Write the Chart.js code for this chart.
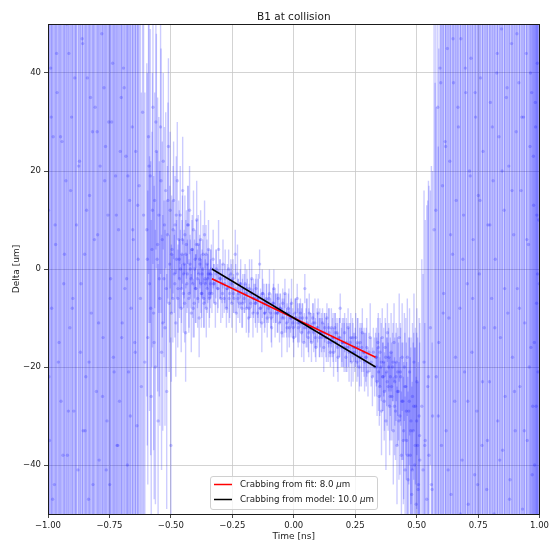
<!DOCTYPE html>
<html>
<head>
<meta charset="utf-8">
<title>B1 at collision</title>
<script src="https://cdn.jsdelivr.net/npm/chart.js@4.4.1/dist/chart.umd.min.js"></script>
<style>
  html, body { margin: 0; padding: 0; background: #ffffff; }
  #wrap { width: 552px; height: 542px; }
</style>
</head>
<body>
<div id="wrap"><canvas id="chart" width="552" height="542"></canvas></div>
<script>
// ---- Measurements: far-left tail (bunch edge, very large errors) ----
const tailLeftTime = [
  -0.998,-0.994,-0.989,-0.985,-0.979,-0.974,-0.969,-0.963,-0.958,-0.953,
  -0.947,-0.943,-0.936,-0.931,-0.927,-0.921,-0.915,-0.911,-0.904,-0.899,
  -0.895,-0.888,-0.884,-0.878,-0.872,-0.868,-0.861,-0.857,-0.851,-0.846,
  -0.840,-0.835,-0.831,-0.824,-0.819,-0.815,-0.808,-0.803,-0.798,-0.792,
  -0.788,-0.781,-0.776,-0.772,-0.766,-0.760,-0.756,-0.749,-0.745,-0.741,
  -0.734,-0.729,-0.725,-0.719,-0.713,-0.709,-0.702,-0.698,-0.693,-0.687,
  -0.683,-0.677,-0.672,-0.668,-0.662,-0.657,-0.653,-0.647,-0.643,-0.638,
  -0.633,-0.629,-0.624,-0.620,-0.615,-0.611,-0.606,
  // second pass of samples
  -0.996,-0.987,-0.981,-0.971,-0.965,-0.955,-0.949,-0.939,-0.933,-0.924,
  -0.917,-0.908,-0.901,-0.891,-0.886,-0.875,-0.866,-0.859,-0.849,-0.843,
  -0.833,-0.827,-0.817,-0.811,-0.800,-0.794,-0.785,-0.778,-0.769,-0.763,
  -0.753,-0.747,-0.737,-0.731,-0.722,-0.716,-0.706,-0.700,-0.690,-0.680,
  -0.675,-0.665,-0.655,-0.645,-0.635
];
const tailLeftDelta = [
  12,-35,41,-8,27,-44,5,36,-19,58,
  -27,26,-3,-51,18,-38,44,-12,31,-6,
  -29,62,9,-41,22,-17,47,-33,3,-22,
  39,-47,15,-9,28,-56,33,-25,7,-39,
  21,48,-14,37,25,-31,11,-44,-2,30,
  -18,52,19,-36,8,-27,35,-11,41,-4,
  23,-40,-21,14,-8,29,6,-15,24,-32,
  2,17,-6,-24,32,11,-19,
  // second pass of samples
  -22,31,-47,9,44,-15,27,-38,3,50,
  -29,16,-8,39,-52,21,-3,46,-33,12,
  -19,35,-44,6,28,-11,53,-26,18,-41,
  30,-6,42,-21,11,-36,24,-14,37,-2,
  19,-30,8,-17,13
];
const tailLeftErr = [
  140,180,120,160,150,190,130,170,145,200,
  165,135,155,210,125,175,185,140,150,130,
  160,220,135,170,145,150,185,165,125,140,
  175,190,130,140,150,210,160,150,120,170,
  135,180,140,160,150,155,125,170,130,145,
  140,190,120,150,115,140,160,120,150,110,
  125,140,115,100,95,120,90,85,110,95,
  75,80,70,60,90,65,55,
  // second pass of samples
  150,130,170,140,160,125,145,155,135,180,
  140,150,130,165,175,145,120,170,150,135,
  160,140,175,125,150,145,190,140,130,160,
  150,125,165,140,130,155,140,120,150,115,
  110,105,95,85,80
];

// ---- Measurements: bunch core ----
const coreTime = [
  -0.598,-0.594,-0.591,-0.587,-0.584,-0.580,-0.577,-0.573,-0.570,-0.566,
  -0.563,-0.559,-0.556,-0.552,-0.549,-0.545,-0.542,-0.538,-0.535,-0.531,
  -0.528,-0.524,-0.521,-0.517,-0.514,-0.510,-0.507,-0.503,-0.500,-0.497,
  -0.495,-0.492,-0.489,-0.486,-0.483,-0.480,-0.477,-0.474,-0.471,-0.468,
  -0.465,-0.462,-0.458,-0.455,-0.452,-0.449,-0.446,-0.443,-0.440,-0.437,
  -0.433,-0.430,-0.427,-0.424,-0.421,-0.417,-0.414,-0.411,-0.408,-0.405,
  -0.401,-0.398,-0.395,-0.392,-0.389,-0.385,-0.382,-0.379,-0.376,-0.373,
  -0.369,-0.366,-0.363,-0.360,-0.356,-0.353,-0.350,-0.347,-0.343,-0.340,
  -0.337,-0.333,-0.328,-0.324,-0.319,-0.315,-0.310,-0.306,-0.301,-0.297,
  -0.292,-0.288,-0.283,-0.279,-0.274,-0.270,-0.265,-0.261,-0.256,-0.252,
  -0.247,-0.243,-0.238,-0.234,-0.229,-0.225,-0.220,-0.216,-0.211,-0.207,
  -0.202,-0.198,-0.193,-0.189,-0.184,-0.180,-0.175,-0.171,-0.166,-0.162,
  -0.157,-0.153,-0.148,-0.144,-0.139,-0.135,-0.130,-0.126,-0.121,-0.117,
  -0.112,-0.108,-0.103,-0.099,-0.094,-0.090,-0.085,-0.081,-0.076,-0.072,
  -0.067,-0.063,-0.058,-0.054,-0.049,-0.045,-0.040,-0.036,-0.031,-0.027,
  -0.022,-0.018,-0.013,-0.009,-0.004,0.000,0.005,0.009,0.014,0.018,
  0.023,0.027,0.032,0.036,0.041,0.045,0.050,0.054,0.059,0.063,
  0.068,0.072,0.077,0.081,0.086,0.090,0.095,0.099,0.104,0.108,
  0.113,0.117,0.122,0.126,0.131,0.135,0.140,0.144,0.149,0.153,
  0.158,0.162,0.167,0.171,0.176,0.180,0.185,0.189,0.194,0.198,
  0.203,0.207,0.212,0.216,0.221,0.225,0.230,0.234,0.239,0.243,
  0.248,0.252,0.257,0.261,0.266,0.270,0.275,0.279,0.284,0.288,
  0.293,0.297,0.302,0.306,0.311,0.315,0.320,0.324,0.329,0.333,
  0.336,0.339,0.342,0.345,0.348,0.351,0.354,0.357,0.360,0.363,
  0.366,0.369,0.372,0.375,0.378,0.381,0.384,0.387,0.390,0.393,
  0.396,0.399,0.402,0.405,0.408,0.411,0.414,0.417,0.420,0.423,
  0.426,0.429,0.432,0.435,0.438,0.441,0.444,0.447,0.450,0.453,
  0.456,0.459,0.462,0.465,0.468,0.471,0.474,0.477,0.480,0.483,
  0.486,0.489,0.492,0.495,0.498,0.501,0.504,0.507,0.510,0.513,
  // second pass of samples
  -0.596,-0.589,-0.582,-0.575,-0.568,-0.561,-0.554,-0.547,-0.540,-0.533,
  -0.526,-0.519,-0.512,-0.505,-0.498,-0.491,-0.484,-0.478,-0.472,-0.466,
  -0.461,-0.457,-0.453,-0.448,-0.444,-0.439,-0.435,-0.431,-0.426,-0.422,
  -0.418,-0.413,-0.409,-0.404,-0.400,-0.396,-0.391,-0.387,-0.383,-0.378,
  -0.374,-0.370,-0.365,-0.361,-0.357,-0.352,-0.348,-0.344,-0.339,-0.335,
  -0.326,-0.317,-0.308,-0.299,-0.290,-0.281,-0.272,-0.263,-0.254,-0.245,
  -0.236,-0.227,-0.218,-0.209,-0.200,-0.191,-0.182,-0.173,-0.164,-0.155,
  -0.146,-0.137,-0.128,-0.119,-0.110,-0.101,-0.092,-0.083,-0.074,-0.065,
  -0.056,-0.047,-0.038,-0.029,-0.020,-0.011,-0.002,0.007,0.016,0.025,
  0.034,0.043,0.052,0.061,0.070,0.079,0.088,0.097,0.106,0.115,
  0.124,0.133,0.142,0.151,0.160,0.169,0.178,0.187,0.196,0.205,
  0.214,0.223,0.232,0.241,0.250,0.259,0.268,0.277,0.286,0.295,
  0.338,0.344,0.350,0.356,0.362,0.368,0.374,0.380,0.386,0.392,
  0.398,0.404,0.410,0.416,0.422,0.428,0.434,0.440,0.446,0.452,
  0.458,0.464,0.470,0.476,0.482,0.488,0.494,0.500,0.506,0.512
];
const coreDelta = [
  8,-14,27,-3,19,-26,4,33,-9,14,
  -20,24,2,-31,11,-6,29,-17,6,22,
  -2,-12,16,-25,7,25,-7,12,-36,3,
  4,-6,14,-1,9,-11,2,18,-4,6,
  -2,11,-8,3,16,-5,1,7,-13,5,
  -1,9,-6,12,0,-9,4,-3,8,-7,
  2,-4,10,-2,5,-10,1,6,-5,-1,
  3,-6,7,-3,-8,1,-2,4,-5,-1,
  -1,-5,2,-3,-7,0,-4,4,-2,-6,
  -3,1,-6,-2,-8,-4,0,-5,-1,-7,
  -2,-6,3,-9,-1,-5,-7,-3,-8,-4,
  -6,-3,-8,-5,-10,-4,-7,-2,-9,-6,
  -7,-4,-9,-6,1,-8,-11,-5,-7,-9,
  -6,-10,-8,-5,-9,-12,-7,-4,-9,-8,
  -9,-6,-11,-8,-13,-7,-10,-5,-9,-12,
  -8,-12,-10,-7,-11,-14,-9,-10,-6,-12,
  -11,-9,-13,-10,-15,-4,-12,-11,-14,-9,
  -12,-15,-10,-13,-11,-16,-12,-9,-14,-13,
  -13,-11,-16,-12,-14,-10,-15,-13,-17,-12,
  -14,-17,-12,-15,-13,-18,-14,-8,-16,-15,
  -15,-13,-18,-16,-12,-17,-15,-19,-14,-16,
  -17,-14,-19,-16,-20,-15,-18,-13,-17,-19,
  -18,-16,-21,-17,-14,-19,-22,-17,-20,-18,
  -18,-23,-15,-21,-26,-17,-20,-29,-14,-22,
  -19,-25,-16,-31,-21,-13,-24,-18,-28,-22,
  -17,-26,-20,-33,-15,-23,-29,-19,-36,-21,
  -25,-14,-30,-22,-38,-18,-27,-33,-20,-41,
  -24,-35,-18,-43,-29,-21,-38,-31,-46,-26,
  -33,-19,-40,-28,-48,-23,-36,-44,-30,-39,
  // second pass of samples
  2,21,-8,12,-15,30,5,-2,18,-11,
  9,-4,14,1,-9,8,-3,11,-6,2,
  0,-4,6,-1,-7,3,-3,9,-5,1,
  -2,4,-8,0,-4,5,-6,-1,2,-3,
  -5,0,-7,-2,3,-4,-1,-6,-3,0,
  -3,-1,-4,-2,-5,-3,-4,-6,-3,-5,
  -4,-6,-3,-7,-5,-4,-8,-5,-6,-7,
  -6,-8,-5,-9,-7,-6,-10,-7,-8,-9,
  -8,-10,-9,-11,-9,-10,-12,-10,-11,-10,
  -11,-12,-10,-13,-12,-11,-14,-12,-13,-14,
  -13,-14,-12,-15,-14,-13,-16,-14,-15,-16,
  -15,-16,-14,-17,-16,-15,-18,-16,-17,-18,
  -20,-16,-24,-19,-22,-27,-18,-23,-20,-26,
  -24,-19,-28,-22,-25,-31,-21,-27,-35,-24,
  -29,-38,-27,-33,-41,-28,-36,-31,-45,-34
];
const coreErr = [
  34,30,28,26,30,36,24,32,28,22,
  28,24,22,32,20,26,30,24,20,18,
  16,20,16,24,14,18,14,16,22,12,
  10,9,12,8,10,11,8,12,9,8,
  8,10,9,7,11,8,7,8,10,7,
  7,8,7,9,6,8,6,7,8,7,
  6,7,8,6,6,8,5,6,7,5,
  6,6,7,5,6,5,5,6,5,5,
  5,4,6,4,5,4,5,6,4,5,
  4,5,3,6,4,5,4,5,3,5,
  4,3,5,4,6,3,4,5,4,3,
  3,4,5,3,4,6,3,4,5,3,
  4,3,4,5,3,4,6,3,4,3,
  3,4,3,5,3,4,3,4,5,3,
  4,3,4,3,5,3,4,3,4,5,
  3,4,3,5,3,4,3,4,3,4,
  4,3,5,3,4,3,4,5,3,4,
  3,4,3,4,5,3,4,3,4,3,
  4,3,5,3,4,3,4,5,3,4,
  4,5,3,4,3,5,4,3,4,5,
  5,4,3,5,4,6,4,5,4,3,
  4,5,4,6,5,4,6,5,4,6,
  5,6,5,4,7,5,6,5,6,5,
  6,7,5,8,6,7,6,9,6,7,
  7,8,6,10,7,6,9,7,10,8,
  8,9,7,11,8,9,10,8,12,9,
  10,9,12,10,13,11,12,14,11,15,
  14,16,12,18,15,13,20,17,22,15,
  18,14,24,16,26,15,22,25,20,28,
  // second pass of samples
  38,32,30,28,32,26,30,24,27,22,
  20,18,20,16,14,13,11,12,10,10,
  8,7,9,7,8,7,6,8,7,6,
  6,7,6,6,7,5,6,6,5,6,
  5,6,5,5,6,5,5,6,5,5,
  4,5,4,4,5,4,4,5,4,4,
  5,4,3,5,4,4,5,3,4,5,
  4,3,5,4,4,3,5,4,3,4,
  3,4,4,3,5,4,3,4,4,3,
  4,3,4,5,3,4,4,3,5,4,
  4,5,4,3,5,4,5,4,4,5,
  5,4,5,6,4,5,6,5,5,6,
  6,7,6,8,7,8,7,9,8,9,
  9,8,10,9,11,12,10,12,13,11,
  14,16,13,17,18,15,20,18,22,19
];

// ---- Measurements: far-right tail ----
const tailRightTime = [
  0.521,0.526,0.530,0.535,0.541,0.545,0.550,0.556,0.560,0.565,
  0.571,0.575,0.580,0.586,0.590,0.595,0.601,0.605,0.610,0.616,
  0.620,0.625,0.631,0.635,0.640,0.646,0.650,0.655,0.661,0.665,
  0.670,0.676,0.680,0.685,0.691,0.695,0.700,0.706,0.710,0.715,
  0.721,0.725,0.730,0.736,0.740,0.745,0.751,0.755,0.760,0.766,
  0.770,0.775,0.781,0.785,0.790,0.796,0.800,0.805,0.811,0.815,
  0.820,0.826,0.830,0.835,0.841,0.845,0.850,0.856,0.860,0.865,
  0.871,0.875,0.880,0.886,0.890,0.895,0.901,0.905,0.910,0.916,
  0.920,0.925,0.931,0.935,0.940,0.946,0.950,0.955,0.961,0.965,
  0.968,0.972,0.976,0.980,0.984,0.988,0.991,0.994,0.997,0.999,
  // second pass of samples
  0.533,0.548,0.563,0.578,0.588,0.598,0.608,0.618,0.628,0.638,
  0.648,0.658,0.668,0.678,0.688,0.698,0.708,0.718,0.728,0.738,
  0.748,0.758,0.768,0.778,0.788,0.798,0.808,0.818,0.828,0.838,
  0.848,0.858,0.868,0.878,0.888,0.898,0.908,0.918,0.928,0.938,
  0.948,0.958,0.963,0.970,0.975,0.979,0.983,0.986,0.989,0.992
];
const tailRightDelta = [
  -28,-41,-19,-35,-47,-24,-38,-12,-44,-30,
  8,-52,-22,33,-15,41,-36,17,-5,26,
  -33,45,-10,22,-46,3,38,-27,14,-55,
  29,-8,47,-39,11,-21,36,-3,-48,20,
  43,-17,6,-42,31,-29,15,-1,39,-36,
  24,-12,55,-45,9,-23,34,-6,18,-50,
  2,40,-31,27,-14,49,-37,12,-26,35,
  -9,21,-43,46,-18,7,-33,28,-4,38,
  -24,16,-49,31,-11,44,-35,5,25,-16,
  36,-28,13,-40,29,-7,42,-21,10,-3,
  // second pass of samples
  -36,-22,-45,12,-30,38,-9,25,-41,7,
  47,-18,33,-50,2,41,-27,19,-6,36,
  -44,14,-23,51,-35,9,29,-12,44,-39,
  20,-4,37,-47,16,-25,48,-8,31,-33,
  6,-20,40,-42,23,-15,34,-28,11,-1
];
const tailRightErr = [
  30,40,35,45,60,38,55,28,65,50,
  70,90,55,100,60,120,95,80,75,110,
  130,150,120,140,160,125,150,135,120,170,
  145,130,160,150,125,140,155,120,165,135,
  160,140,125,155,150,145,130,120,160,150,
  140,125,180,165,120,140,150,125,135,175,
  120,160,150,145,130,170,155,125,140,150,
  125,140,160,170,135,120,150,145,125,155,
  140,130,170,150,125,165,155,120,140,130,
  155,145,130,160,150,125,165,140,130,120,
  // second pass of samples
  25,40,30,70,55,120,80,110,125,140,
  160,130,150,175,120,145,160,130,125,150,
  165,140,125,180,150,120,145,130,160,170,
  125,140,155,170,130,145,165,120,140,150,
  135,130,150,165,140,125,155,145,130,120
];

// ---- Crabbing lines (fit and model) ----
const crabTime = [-0.333, 0.333];
const crabFitDelta = [-2, -18];
const crabModelDelta = [0, -20];
const legendLabels = ['Crabbing from fit: 8.0 ', 'Crabbing from model: 10.0 '];

// ---- Axis ticks ----
const xTickValues = [-1, -0.75, -0.5, -0.25, 0, 0.25, 0.5, 0.75, 1];
const yTickValues = [-40, -20, 0, 20, 40];

const FONT = '"DejaVu Sans", "Liberation Sans", sans-serif';
const minus = s => s.replace('-', '\u2212');

const toPoints = (t, d) => t.map((x, i) => ({ x: x, y: d[i] }));
const toErrorBars = (t, d, e) => t.map((x, i) => ({ x: x, y: [d[i] - e[i], d[i] + e[i]] }));

const allPoints = [].concat(
  toPoints(tailLeftTime, tailLeftDelta),
  toPoints(coreTime, coreDelta),
  toPoints(tailRightTime, tailRightDelta)
);
const allErrorBars = [].concat(
  toErrorBars(tailLeftTime, tailLeftDelta, tailLeftErr),
  toErrorBars(coreTime, coreDelta, coreErr),
  toErrorBars(tailRightTime, tailRightDelta, tailRightErr)
);

// Frame, title, axis titles and legend drawn directly on the canvas
const decorations = {
  id: 'decorations',
  afterDatasetsDraw(chart) {
    const { ctx, chartArea: a } = chart;
    ctx.save();
    ctx.strokeStyle = '#1a1a1a';
    ctx.lineWidth = 1;
    ctx.strokeRect(Math.round(a.left) + 0.5, Math.round(a.top) + 0.5,
                   Math.round(a.right - a.left) - 1, Math.round(a.bottom - a.top));
    ctx.restore();
  },
  afterDraw(chart) {
    const { ctx, chartArea: a } = chart;
    const cx = (a.left + a.right) / 2;
    ctx.save();
    ctx.fillStyle = '#1a1a1a';
    ctx.textAlign = 'center';
    ctx.textBaseline = 'alphabetic';
    ctx.font = '10.5px ' + FONT;
    ctx.fillText('B1 at collision', cx, 19.5);
    ctx.font = '9px ' + FONT;
    ctx.fillText('Time [ns]', cx, 538.5);
    ctx.save();
    ctx.translate(18.5, (a.top + a.bottom) / 2);
    ctx.rotate(-Math.PI / 2);
    ctx.fillText('Delta [um]', 0, 0);
    ctx.restore();

    // legend box
    const bx = 210.5, by = 476.5, bw = 167, bh = 33, r = 2.5;
    ctx.beginPath();
    ctx.moveTo(bx + r, by);
    ctx.lineTo(bx + bw - r, by);
    ctx.quadraticCurveTo(bx + bw, by, bx + bw, by + r);
    ctx.lineTo(bx + bw, by + bh - r);
    ctx.quadraticCurveTo(bx + bw, by + bh, bx + bw - r, by + bh);
    ctx.lineTo(bx + r, by + bh);
    ctx.quadraticCurveTo(bx, by + bh, bx, by + bh - r);
    ctx.lineTo(bx, by + r);
    ctx.quadraticCurveTo(bx, by, bx + r, by);
    ctx.closePath();
    ctx.fillStyle = 'rgba(255,255,255,0.8)';
    ctx.fill();
    ctx.strokeStyle = '#d0d0d0';
    ctx.lineWidth = 1;
    ctx.stroke();

    const rows = [
      { label: legendLabels[0], color: '#ff0000', y: 484.5 },
      { label: legendLabels[1], color: '#000000', y: 499.5 }
    ];
    ctx.textAlign = 'left';
    ctx.textBaseline = 'middle';
    rows.forEach(row => {
      ctx.strokeStyle = row.color;
      ctx.lineWidth = 1.5;
      ctx.beginPath();
      ctx.moveTo(214, row.y);
      ctx.lineTo(232, row.y);
      ctx.stroke();
      ctx.fillStyle = '#1a1a1a';
      ctx.font = '8.7px ' + FONT;
      let x = 240;
      ctx.fillText(row.label, x, row.y);
      x += ctx.measureText(row.label).width;
      ctx.font = 'italic 8.7px ' + FONT;
      ctx.fillText('\u03bc', x, row.y);
      x += ctx.measureText('\u03bc').width;
      ctx.font = '8.7px ' + FONT;
      ctx.fillText('m', x, row.y);
    });
    ctx.restore();
  }
};

new Chart(document.getElementById('chart'), {
  type: 'bar',
  data: {
    datasets: [
      {
        type: 'line', label: 'model', data: toPoints(crabTime, crabModelDelta),
        borderColor: '#000000', borderWidth: 1.5, pointRadius: 0, fill: false, order: 0
      },
      {
        type: 'line', label: 'fit', data: toPoints(crabTime, crabFitDelta),
        borderColor: '#ff0000', borderWidth: 1.5, pointRadius: 0, fill: false, order: 1
      },
      {
        type: 'scatter', label: 'delta', data: allPoints,
        backgroundColor: 'rgba(0,0,255,0.2)', borderWidth: 0, pointRadius: 1.7, order: 2
      },
      {
        type: 'bar', label: 'errors', data: allErrorBars,
        backgroundColor: 'rgba(0,0,255,0.2)', borderWidth: 0,
        barThickness: 1.4, inflateAmount: 0, order: 3
      }
    ]
  },
  options: {
    responsive: false,
    devicePixelRatio: 1,
    animation: false,
    events: [],
    layout: { padding: { left: 0, top: 24, right: 11, bottom: 0 } },
    plugins: { legend: { display: false }, tooltip: { enabled: false }, title: { display: false } },
    scales: {
      x: {
        type: 'linear', min: -1, max: 1, offset: false,
        afterBuildTicks: s => { s.ticks = xTickValues.map(v => ({ value: v })); },
        afterFit: s => { s.height = 28; },
        ticks: {
          autoSkip: false, maxRotation: 0, padding: 3, color: '#1a1a1a',
          font: { family: FONT, size: 8.5 },
          callback: v => minus(Number(v).toFixed(2))
        },
        grid: { color: '#c8c8c8', lineWidth: 0.8, tickColor: '#1a1a1a', tickLength: 4, offset: false },
        border: { display: true, color: '#1a1a1a', width: 1 }
      },
      y: {
        type: 'linear', min: -50, max: 50,
        afterBuildTicks: s => { s.ticks = yTickValues.map(v => ({ value: v })); },
        afterFit: s => { s.width = 48; },
        ticks: {
          padding: 3, color: '#1a1a1a',
          font: { family: FONT, size: 8.5 },
          callback: v => minus(String(v))
        },
        grid: { color: '#c8c8c8', lineWidth: 0.8, tickColor: '#1a1a1a', tickLength: 4 },
        border: { display: true, color: '#1a1a1a', width: 1 }
      }
    }
  },
  plugins: [decorations]
});
</script>
</body>
</html>
